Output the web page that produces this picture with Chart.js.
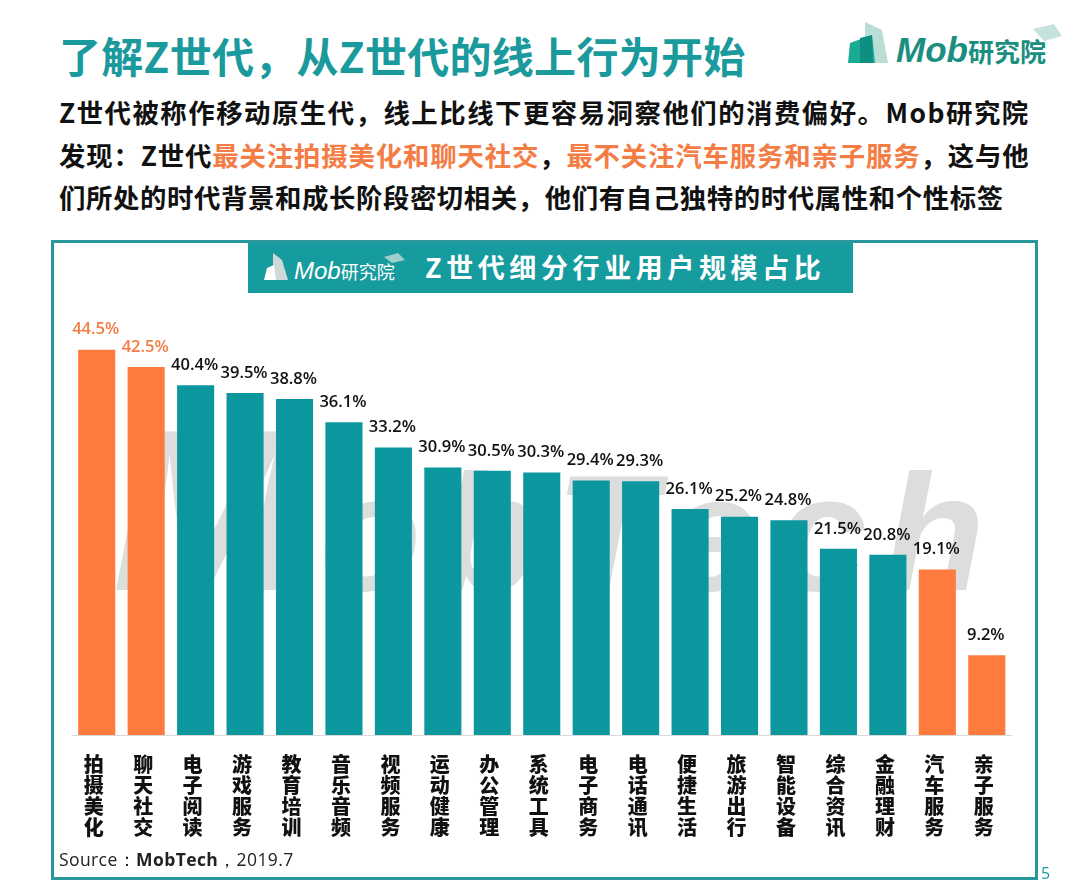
<!DOCTYPE html>
<html>
<head>
<meta charset="utf-8">
<script src="https://cdn.jsdelivr.net/npm/chart.js@4"></script>
<style>
  html, body { margin: 0; padding: 0; background: #fff; }
  body { position: relative; width: 1080px; height: 895px; overflow: hidden; font-family: "Noto Sans CJK SC", sans-serif; }
  .txt { position: absolute; white-space: nowrap; font-weight: 700; }
  .title { left: 59px; top: 25px; font-size: 42px; line-height: 60px; color: #1a9a9c; letter-spacing: .3px; }
  .body { left: 59px; font-size: 26.4px; line-height: 40px; color: #111; }
  .hl { color: #f47c45; }
  .frame { position: absolute; left: 51px; top: 240px; width: 981px; height: 634px; border: 3px solid #2a979c; }
  .banner { position: absolute; left: 248px; top: 243px; width: 605px; height: 50px; background: #169b9e; }
  .banner-title { left: 425px; top: 245px; font-size: 27px; line-height: 44px; color: #fff; letter-spacing: 4.6px; }
  .logo-text { font-family: "Liberation Sans", sans-serif; font-style: italic; }
  .cjk { font-family: "Noto Sans CJK SC"; font-style: normal; }
  .source { left: 59px; top: 847px; font: 400 17.5px "Open Sans", sans-serif; color: #222; letter-spacing: .4px; }
  .source b { font-weight: 700; }
  .page { left: 1041px; top: 862px; font: 400 16px "Open Sans", sans-serif; color: #1a9a9c; }
  svg { position: absolute; }
  #chart { position: absolute; left: 0; top: 0; }
</style>
</head>
<body>
<svg style="left:0;top:0" width="1080" height="895">
  <text x="112" y="590" textLength="873" lengthAdjust="spacing" font-family="Liberation Sans" font-weight="700" font-style="italic" font-size="166" fill="#dcdedd"><tspan font-size="230">M</tspan>obTech</text>
</svg>
<div class="frame"></div>
<div class="banner"></div>

<div class="txt title">了解Z世代，从Z世代的线上行为开始</div>
<svg style="left:848px;top:20px" width="216" height="46">
  <polygon points="17,2 34,10 40,43 17,43" fill="#b9ded6"/>
  <polygon points="0,43 2,23 24,15 27,43" fill="#19ab93"/>
  <polygon points="12,18 24,15 25,43 12,43" fill="#0f8f82"/>
  <polygon points="185,9 206,4 214,16 196,21" fill="#c5e3dc"/>
</svg>
<div class="txt logo-text" style="left:896px;top:28px;font-size:35px;line-height:44px;color:#1a8f80">Mob<span class="cjk" style="font-size:26px">研究院</span></div>

<div class="txt body" style="top:92px;letter-spacing:1.5px">Z世代被称作移动原生代，线上比线下更容易洞察他们的消费偏好。Mob研究院</div>
<div class="txt body" style="top:135px;letter-spacing:.85px">发现：Z世代<span class="hl">最关注拍摄美化和聊天社交</span>，<span class="hl">最不关注汽车服务和亲子服务</span>，这与他</div>
<div class="txt body" style="top:177px;letter-spacing:.6px">们所处的时代背景和成长阶段密切相关，他们有自己独特的时代属性和个性标签</div>

<svg style="left:264px;top:252px" width="142" height="30">
  <polygon points="9,1 18,8 24,28 9,28" fill="#cfd8d8"/>
  <polygon points="0,28 3,16 10,13 12,28" fill="#fff"/>
  <polygon points="120,5 134,1 141,8 128,11" fill="#9fcfcd"/>
</svg>
<div class="txt logo-text" style="left:294px;top:254px;font-size:24px;line-height:34px;color:#fff;font-weight:400">Mob<span class="cjk" style="font-size:18px">研究院</span></div>
<div class="txt banner-title">Z世代细分行业用户规模占比</div>

<canvas id="chart" width="1080" height="895"></canvas>

<div class="txt source">Source：<b>MobTech</b>，2019.7</div>
<div class="txt page">5</div>

<script>
const categories = ["拍摄美化", "聊天社交", "电子阅读", "游戏服务", "教育培训", "音乐音频", "视频服务", "运动健康", "办公管理", "系统工具", "电子商务", "电话通讯", "便捷生活", "旅游出行", "智能设备", "综合资讯", "金融理财", "汽车服务", "亲子服务"];
const shares = [44.5, 42.5, 40.4, 39.5, 38.8, 36.1, 33.2, 30.9, 30.5, 30.3, 29.4, 29.3, 26.1, 25.2, 24.8, 21.5, 20.8, 19.1, 9.2];
const orangeBars = ["拍摄美化", "聊天社交", "汽车服务", "亲子服务"];
const orangeLabels = ["拍摄美化", "聊天社交"];

const TEAL = "#0c979f";
const ORANGE = "#ff7a3d";

// 柱顶数值标签
const valueLabels = {
  id: "valueLabels",
  afterDatasetsDraw(chart) {
    const ctx = chart.ctx;
    ctx.save();
    ctx.font = "600 16.5px 'Open Sans', sans-serif";
    ctx.textAlign = "center";
    ctx.textBaseline = "middle";
    chart.getDatasetMeta(0).data.forEach((bar, i) => {
      ctx.fillStyle = orangeLabels.includes(categories[i]) ? "#f47c45" : "#111";
      ctx.fillText(shares[i].toFixed(1) + "%", bar.x - 1, bar.y - 20);
    });
    ctx.restore();
  },
};

new Chart(document.getElementById("chart").getContext("2d"), {
  type: "bar",
  data: {
    labels: categories,
    datasets: [
      {
        data: shares,
        backgroundColor: categories.map((c) => (orangeBars.includes(c) ? ORANGE : TEAL)),
        barPercentage: 0.75,
        categoryPercentage: 1,
      },
    ],
  },
  options: {
    responsive: false,
    animation: false,
    layout: { padding: { left: 72, right: 68.5, top: 302, bottom: 50 } },
    plugins: { legend: { display: false }, tooltip: { enabled: false } },
    scales: {
      x: {
        afterFit: (scale) => { scale.height = 110; },
        grid: { display: false },
        border: { color: "#d9d9d9", width: 1 },
        ticks: {
          maxRotation: 0,
          autoSkip: false,
          padding: 11,
          labelOffset: -3,
          color: "#111",
          font: { family: "'Noto Sans CJK SC'", size: 20, weight: "900", lineHeight: 1.05 },
          callback: (value, i) => categories[i].split(""),
        },
      },
      y: { display: false, min: 0, max: 50 },
    },
  },
  plugins: [valueLabels],
});
</script>
</body>
</html>
